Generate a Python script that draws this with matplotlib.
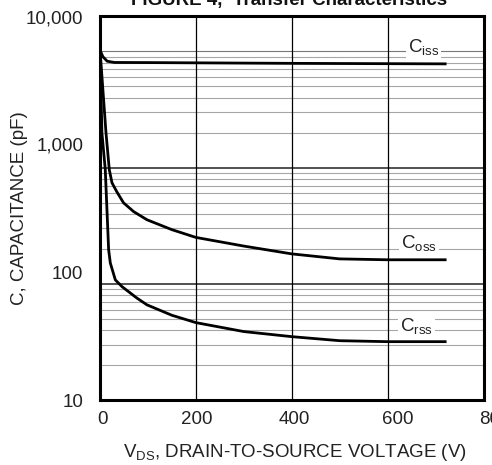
import matplotlib
matplotlib.use('Agg')
import matplotlib.pyplot as plt
from matplotlib.transforms import ScaledTranslation

plt.rcParams['font.family'] = ['Liberation Sans', 'DejaVu Sans']
plt.rcParams['mathtext.fontset'] = 'custom'
plt.rcParams['mathtext.rm'] = 'Liberation Sans'
plt.rcParams['mathtext.it'] = 'Liberation Sans:italic'
plt.rcParams['mathtext.bf'] = 'Liberation Sans:bold'

# data (V_DS in volts, capacitance in pF)
ciss_v = [0, 0.5, 6, 15, 30, 100, 200, 400, 600, 720]
ciss_c = [10000, 5400, 4850, 4470, 4370, 4360, 4340, 4300, 4275, 4260]

coss_v = [0, 12.5, 19.4, 25, 35, 49, 70, 98, 150, 200, 300, 400, 500, 600, 720]
coss_c = [5500, 1230, 634, 500, 426, 349, 298, 257, 215, 187, 160, 139, 127, 125, 125]

crss_v = [0, 4, 11, 18, 21.5, 32, 46, 77, 98, 150, 200, 300, 400, 500, 600, 720]
crss_c = [5500, 1233, 634, 150, 118, 87, 77, 62.7, 55.5, 46, 40.3, 34.3, 31.3, 29.1, 28.6, 28.6]

x_ticks = [0, 200, 400, 600, 800]
y_ticks = [10, 100, 1000, 10000]
y_tick_labels = ['10', '100', '1,000', '10,000']

fig = plt.figure(figsize=(4.92, 4.65), dpi=100)
rect = [100 / 492, 65 / 465, 383.5 / 492, 383.5 / 465]

# the printed grid of the original is on its own log scale (10 .. 20,000)
gax = fig.add_axes(rect, zorder=0)
gax.set_yscale('log')
gax.set_ylim(10, 20000)
gax.set_xlim(0, 1)
gax.axis('off')
for dec in [10, 100, 1000]:
    for m in range(2, 10):
        gax.axhline(m * dec, color='#a6a6a6', lw=0.8)
for dec in [100, 1000]:
    gax.axhline(dec, color='#222222', lw=1.1)
gax.axhline(10000, color='#777777', lw=0.8)

ax = fig.add_axes(rect, zorder=1)
ax.patch.set_visible(False)
ax.set_yscale('log')
ax.set_xlim(0, 800)
ax.set_ylim(10, 10000)

ax.plot(ciss_v, ciss_c, color='black', lw=2.0, solid_joinstyle='round')
ax.plot(coss_v, coss_c, color='black', lw=2.0, solid_joinstyle='round')
ax.plot(crss_v, crss_c, color='black', lw=2.0, solid_joinstyle='round')

box = dict(facecolor='white', edgecolor='none', pad=1.5)
ax.text(675, 5820, r'C$_{\mathrm{iss}}$', ha='center', va='center', fontsize=13.5, color='#222222', bbox=box)
ax.text(666, 168, r'C$_{\mathrm{oss}}$', ha='center', va='center', fontsize=13.5, color='#222222', bbox=box)
ax.text(660, 38, r'C$_{\mathrm{rss}}$', ha='center', va='center', fontsize=13.5, color='#222222', bbox=box)

ax.set_xticks(x_ticks)
ax.set_xticklabels([str(v) for v in x_ticks])
ax.set_yticks(y_ticks)
ax.set_yticklabels(y_tick_labels)
ax.yaxis.set_minor_locator(matplotlib.ticker.NullLocator())
ax.tick_params(length=0, labelsize=13.5, labelcolor='#222222')
ax.tick_params(axis='y', pad=12)
ax.tick_params(axis='x', pad=8)
ax.xaxis.grid(True, color='black', lw=0.9)
for s in ax.spines.values():
    s.set_linewidth(2.2)

# x labels in the scan sit a little to the right of their grid lines
nudges = [3, 1, 3, 10, 11]
for lab, dx in zip(ax.get_xticklabels(), nudges):
    lab.set_transform(lab.get_transform() + ScaledTranslation(dx / 100, 0, fig.dpi_scale_trans))

fig.text(20 / 492, 1 - 208 / 465, 'C, CAPACITANCE (pF)', rotation=90, ha='center', va='center',
         fontsize=13.5, color='#222222')
fig.text(295 / 492, 1 - 452 / 465, r'V$_{\mathrm{DS}}$, DRAIN-TO-SOURCE VOLTAGE (V)',
         ha='center', va='center', fontsize=13.5, color='#222222')
fig.text(289.5 / 492, 1 - 5 / 465, 'FIGURE 4,  Transfer Characteristics', ha='center',
         va='baseline', fontsize=13.5, fontweight='bold', color='#111111')

fig.savefig('out.png', dpi=100, facecolor='white')
